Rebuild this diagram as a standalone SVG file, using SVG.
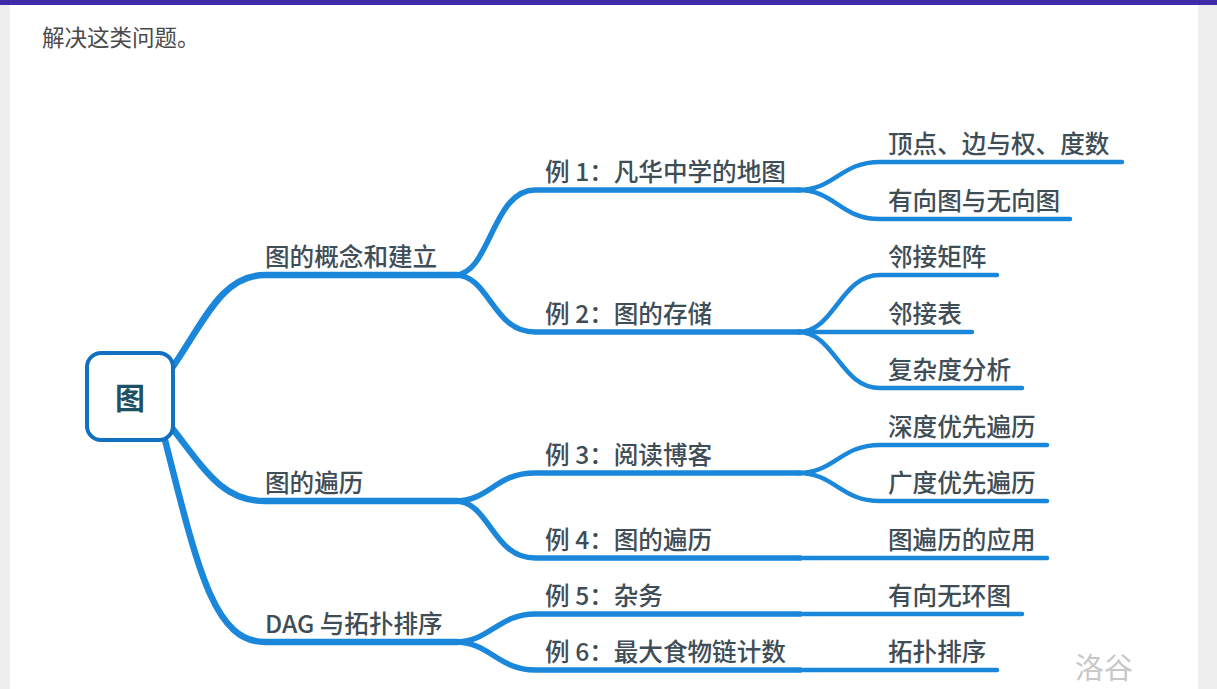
<svg xmlns="http://www.w3.org/2000/svg" width="1217" height="689" viewBox="0 0 1217 689">
<style>
.l1{fill:none;stroke:#1a87db;stroke-width:6.5;stroke-linecap:round}
.l2{fill:none;stroke:#1a87db;stroke-width:5.5;stroke-linecap:round}
.l3{fill:none;stroke:#1a87db;stroke-width:4.5;stroke-linecap:round}
.t{font-family:"Noto Sans CJK SC","Noto Sans",sans-serif;font-size:24.6px;font-weight:500;fill:#3e4d56}
.p{font-family:"Noto Sans CJK SC","Noto Sans",sans-serif;font-size:22.5px;fill:#4a4a4a}
</style>
<rect x="0" y="0" width="1217" height="689" fill="#eeeeee"/>
<rect x="10" y="0" width="1188" height="689" fill="#ffffff"/>
<rect x="0" y="0" width="1217" height="5" fill="#3d2ba8"/>
<text class="p" x="42" y="46">解决这类问题。</text>

<g id="connectors">
<path class="l1" d="M172 368 C205 320 222 275 265 275 L457 275"/>
<path class="l1" d="M172 428 C205 470 222 501 265 501 L457 501"/>
<path class="l1" d="M165 440 C198 570 214 642 265 642 L457 642"/>

<path class="l2" d="M455 275 C490 275 492 190 535 190 L800 190"/>
<path class="l2" d="M455 275 C490 275 492 332 535 332 L800 332"/>
<path class="l2" d="M455 501 C490 501 495 473 535 473 L800 473"/>
<path class="l2" d="M455 501 C490 501 492 558 535 558 L800 558"/>
<path class="l2" d="M455 642 C490 642 498 614 535 614 L800 614"/>
<path class="l2" d="M455 642 C490 642 498 670 535 670 L800 670"/>

<path class="l3" d="M798 190 C835 190 840 162 880 162 L1122 162"/>
<path class="l3" d="M798 190 C835 190 840 219 880 219 L1070 219"/>
<path class="l3" d="M798 332 C835 332 840 275 880 275 L997 275"/>
<path class="l3" d="M798 332 L972 332"/>
<path class="l3" d="M798 332 C835 332 840 388 880 388 L1022 388"/>
<path class="l3" d="M798 473 C835 473 840 445 880 445 L1047 445"/>
<path class="l3" d="M798 473 C835 473 840 501 880 501 L1047 501"/>
<path class="l3" d="M798 558 L1047 558"/>
<path class="l3" d="M798 614 L1022 614"/>
<path class="l3" d="M798 670 L997 670"/>
</g>

<g id="root">
<rect x="87" y="353" width="86" height="87" rx="14" fill="#ffffff" stroke="#1170c0" stroke-width="4"/>
<text x="130" y="409" text-anchor="middle" font-family="'Noto Sans CJK SC',sans-serif" font-size="30" font-weight="bold" fill="#1d5166">图</text>
</g>

<g id="n-concept"><text class="t" x="265" y="266">图的概念和建立</text></g>
<g id="n-traverse"><text class="t" x="265" y="492">图的遍历</text></g>
<g id="n-dag"><text class="t" x="265" y="633">DAG 与拓扑排序</text></g>

<g id="n-ex1"><text class="t" x="545" y="181">例 1：凡华中学的地图</text></g>
<g id="n-ex2"><text class="t" x="545" y="323">例 2：图的存储</text></g>
<g id="n-ex3"><text class="t" x="545" y="464">例 3：阅读博客</text></g>
<g id="n-ex4"><text class="t" x="545" y="549">例 4：图的遍历</text></g>
<g id="n-ex5"><text class="t" x="545" y="605">例 5：杂务</text></g>
<g id="n-ex6"><text class="t" x="545" y="661">例 6：最大食物链计数</text></g>

<g id="n-a1"><text class="t" x="888" y="153">顶点、边与权、度数</text></g>
<g id="n-a2"><text class="t" x="888" y="210">有向图与无向图</text></g>
<g id="n-b1"><text class="t" x="888" y="266">邻接矩阵</text></g>
<g id="n-b2"><text class="t" x="888" y="323">邻接表</text></g>
<g id="n-b3"><text class="t" x="888" y="379">复杂度分析</text></g>
<g id="n-c1"><text class="t" x="888" y="436">深度优先遍历</text></g>
<g id="n-c2"><text class="t" x="888" y="492">广度优先遍历</text></g>
<g id="n-d1"><text class="t" x="888" y="549">图遍历的应用</text></g>
<g id="n-e1"><text class="t" x="888" y="605">有向无环图</text></g>
<g id="n-f1"><text class="t" x="888" y="661">拓扑排序</text></g>

<text x="1075" y="679" font-family="'Noto Sans CJK SC',sans-serif" font-size="29" fill="#c8c8c8">洛谷</text>
</svg>
